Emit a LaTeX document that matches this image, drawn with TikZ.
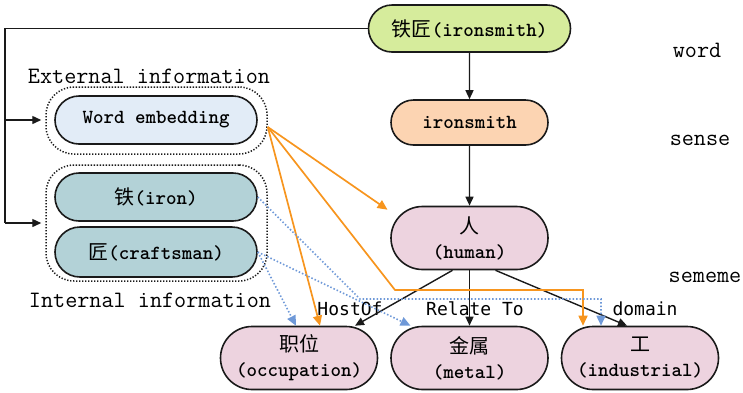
\documentclass[tikz,border=0pt]{standalone}
\usepackage{fontspec}
\usepackage{xcolor}
\usetikzlibrary{arrows.meta,positioning,shapes.misc}
\newfontfamily\cjkfont{Noto Sans CJK SC}
\newfontfamily\relfont{DejaVu Sans Mono}
\newcommand\zhtxt[1]{{\cjkfont\mdseries #1}}
\definecolor{hnWord}{HTML}{D6EC9C}
\definecolor{hnSense}{HTML}{FCD4B2}
\definecolor{hnSem}{HTML}{EDD3DF}
\definecolor{hnEmb}{HTML}{E2ECF7}
\definecolor{hnChar}{HTML}{B3D2D7}
\definecolor{hnOrange}{HTML}{F7951E}
\definecolor{hnBlue}{HTML}{6F99D8}
\definecolor{hnLine}{HTML}{1A1A1A}

\begin{document}
\begin{tikzpicture}[
    x=1pt,y=-1pt,
    font=\fontsize{20}{25}\selectfont\ttfamily\bfseries,
    pill/.style={rounded rectangle,draw=hnLine,line width=1.6pt,inner sep=0pt,
                 align=center,minimum width=157pt,minimum height=63pt},
    wordpill/.style={pill,fill=hnWord,minimum width=202pt,minimum height=47pt},
    sensepill/.style={pill,fill=hnSense,minimum height=45pt},
    sempill/.style={pill,fill=hnSem},
    embpill/.style={pill,fill=hnEmb,minimum width=202pt,minimum height=48pt},
    charpill/.style={pill,fill=hnChar,minimum width=202pt,minimum height=48pt},
    group/.style={draw=hnLine,line width=1.5pt,dash pattern=on 1.3pt off 1.7pt,
                  rounded corners=28pt,minimum width=221pt},
    side/.style={font=\fontsize{23.5}{26}\selectfont\ttfamily\mdseries},
    rel/.style={font=\fontsize{18}{20}\selectfont\relfont},
    ar/.style={-{Triangle[length=9pt,width=8pt]},line width=1.4pt,draw=hnLine},
    ext/.style={-{Triangle[length=10pt,width=9pt]},line width=1.7pt,draw=hnOrange},
    int/.style={-{Triangle[length=10pt,width=9pt]},line width=1.6pt,draw=hnBlue,
                dash pattern=on 1.5pt off 2pt}
  ]
    \useasboundingbox (0,0) rectangle (743,392);

    % word -> sense -> sememes
    \node[wordpill]  (word)  at (469.5,28.5) {\zhtxt{铁匠}(ironsmith)};
    \node[sensepill] (sense) at (469.5,122.5) {ironsmith};
    \node[sempill]   (human) at (469.5,238) {\zhtxt{人}\\(human)};
    \node[sempill]   (occ)   at (299,358)   {\zhtxt{职位}\\(occupation)};
    \node[sempill]   (metal) at (469.5,358) {\zhtxt{金属}\\(metal)};
    \node[sempill]   (ind)   at (640,358)   {\zhtxt{工}\\(industrial)};

    % external / internal information
    \node[group,minimum height=67pt]  (extbox) at (156.5,120.5) {};
    \node[group,minimum height=116pt] (intbox) at (156.5,223) {};
    \node[embpill]  (emb)   at (156,120) {Word embedding};
    \node[charpill] (iron)  at (156,197) {\zhtxt{铁}(iron)};
    \node[charpill,minimum height=50pt] (craft) at (156,252) {\zhtxt{匠}(craftsman)};
    \node[side] (extlbl) at (149,76)  {External information};
    \node[side] (intlbl) at (150,300) {Internal information};

    \node[side] (wordlbl)   at (697,50)  {word};
    \node[side] (senselbl)  at (700,140) {sense};
    \node[side] (sememelbl) at (705,277) {sememe};

    \node[rel] (hostof)   at (350,309) {HostOf};
    \node[rel] (relateto) at (475,309) {Relate To};
    \node[rel] (domain)   at (645,309) {domain};

    \draw[ar] (word)  -- (sense);
    \draw[ar] (sense) -- (human);
    \draw[ar] ([xshift=-17pt]human.south) -- ([xshift=56pt]occ.north);
    \draw[ar] (human.south) -- (metal.north);
    \draw[ar] ([xshift=26pt]human.south) -- ([xshift=-13pt]ind.north);

    % word feeds both groups
    \coordinate (rail) at (5,0);
    \draw[line width=1.4pt,draw=hnLine] (word.west) -| (rail |- intbox.west);
    \draw[ar,shorten >=4pt] (rail |- emb.west) -- (emb.west -| extbox.west);
    \draw[ar,shorten >=4pt] (rail |- intbox.west) -- (intbox.west);

    % orange: word embedding
    \coordinate (embout) at ([yshift=-6.5pt]extbox.east);
    \coordinate (obend)  at (395,290);
    \draw[ext] (embout) -- ([xshift=-82pt,yshift=-4pt]human.north);
    \draw[ext] (embout) -- ([xshift=21pt]occ.north);
    \draw[ext] (embout) -- (obend) -| ([xshift=-57pt]ind.north);

    % blue dotted: characters
    \coordinate (bbend) at (360,299);
    \draw[int] (iron.east) -- (bbend) -| ([xshift=-39pt]ind.north);
    \draw[int] (craft.east) -- ([xshift=-59pt]metal.north);
    \draw[int] (craft.east) -- ([xshift=-3pt]occ.north);
  \end{tikzpicture}
\end{document}
